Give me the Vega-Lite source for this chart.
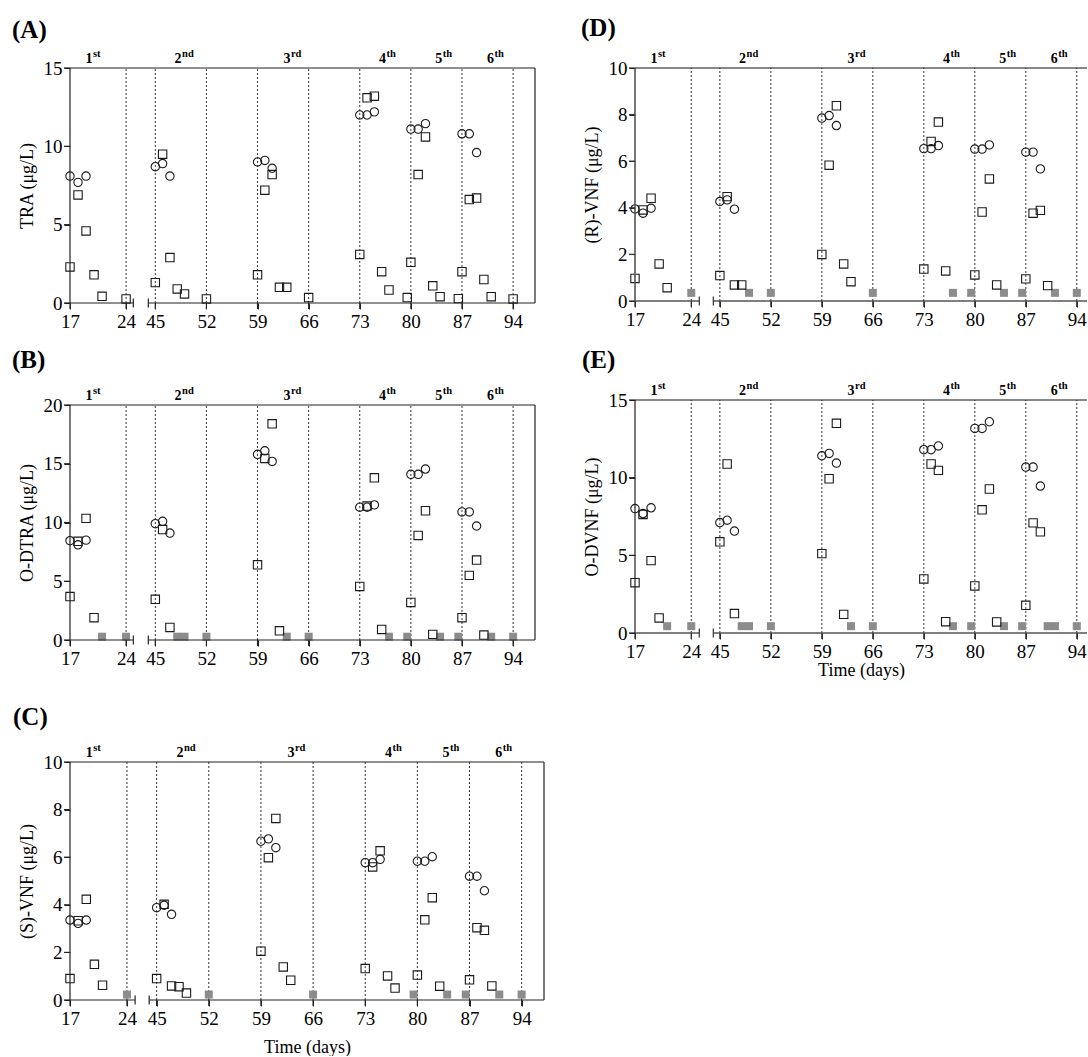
{
  "$schema": "https://vega.github.io/schema/vega-lite/v6.json",
  "padding": {"left": 12, "top": 16, "right": 0, "bottom": 0},
  "background": "white",
  "config": {
    "font": "Liberation Serif",
    "view": {"stroke": null},
    "axis": {"grid": false, "labelFont": "Liberation Serif", "labelFontSize": 19, "labelColor": "#000", "titleFont": "Liberation Serif", "titleFontSize": 18, "titleFontWeight": "normal", "titleColor": "#000", "labelPadding": 3, "labelFlush": false, "labelOverlap": false, "ticks": true, "tickSize": 6, "tickColor": "#222", "domainColor": "#222"},
    "axisX": {"domain": false, "titlePadding": 8},
    "axisY": {"domain": false, "titlePadding": 7, "labelPadding": 2},
    "text": {"font": "Liberation Serif", "color": "#000"}
  },
  "datasets": {
    "one": [{}],
    "xticks": [{"day": 17}, {"day": 24}, {"day": 45}, {"day": 52}, {"day": 59}, {"day": 66}, {"day": 73}, {"day": 80}, {"day": 87}, {"day": 94}],
    "y15": [{"value": 0}, {"value": 5}, {"value": 10}, {"value": 15}],
    "y20": [{"value": 0}, {"value": 5}, {"value": 10}, {"value": 15}, {"value": 20}],
    "y10": [{"value": 0}, {"value": 2}, {"value": 4}, {"value": 6}, {"value": 8}, {"value": 10}],
    "doses": [{"day": 24}, {"day": 45}, {"day": 52}, {"day": 59}, {"day": 66}, {"day": 73}, {"day": 80}, {"day": 87}, {"day": 94}],
    "cycles": [{"day": 19.8, "n": "1", "sup": "st"}, {"day": 48.6, "n": "2", "sup": "nd"}, {"day": 63.5, "n": "3", "sup": "rd"}, {"day": 76.6, "n": "4", "sup": "th"}, {"day": 84.3, "n": "5", "sup": "th"}, {"day": 91.4, "n": "6", "sup": "th"}],
    "A": [
      {"day": 17, "value": 8.1, "t": "c"}, {"day": 18, "value": 7.7, "t": "c"}, {"day": 19, "value": 8.1, "t": "c"},
      {"day": 45, "value": 8.7, "t": "c"}, {"day": 46, "value": 8.9, "t": "c"}, {"day": 47, "value": 8.1, "t": "c"},
      {"day": 59, "value": 9.0, "t": "c"}, {"day": 60, "value": 9.1, "t": "c"}, {"day": 61, "value": 8.6, "t": "c"},
      {"day": 73, "value": 12.0, "t": "c"}, {"day": 74, "value": 12.0, "t": "c"}, {"day": 75, "value": 12.2, "t": "c"},
      {"day": 80, "value": 11.1, "t": "c"}, {"day": 81, "value": 11.1, "t": "c"}, {"day": 82, "value": 11.45, "t": "c"},
      {"day": 87, "value": 10.8, "t": "c"}, {"day": 88, "value": 10.8, "t": "c"}, {"day": 89, "value": 9.6, "t": "c"},
      {"day": 17, "value": 2.3, "t": "s"}, {"day": 18, "value": 6.9, "t": "s"}, {"day": 19, "value": 4.6, "t": "s"}, {"day": 20, "value": 1.8, "t": "s"}, {"day": 21, "value": 0.43, "t": "s"}, {"day": 24, "value": 0.26, "t": "s"},
      {"day": 45, "value": 1.3, "t": "s"}, {"day": 46, "value": 9.5, "t": "s"}, {"day": 47, "value": 2.9, "t": "s"}, {"day": 48, "value": 0.9, "t": "s"}, {"day": 49, "value": 0.58, "t": "s"}, {"day": 52, "value": 0.26, "t": "s"},
      {"day": 59, "value": 1.8, "t": "s"}, {"day": 60, "value": 7.2, "t": "s"}, {"day": 61, "value": 8.2, "t": "s"}, {"day": 62, "value": 1.0, "t": "s"}, {"day": 63, "value": 1.0, "t": "s"}, {"day": 66, "value": 0.35, "t": "s"},
      {"day": 73, "value": 3.1, "t": "s"}, {"day": 74, "value": 13.1, "t": "s"}, {"day": 75, "value": 13.2, "t": "s"}, {"day": 76, "value": 2.0, "t": "s"}, {"day": 77, "value": 0.83, "t": "s"}, {"day": 79.5, "value": 0.35, "t": "s"},
      {"day": 80, "value": 2.6, "t": "s"}, {"day": 81, "value": 8.2, "t": "s"}, {"day": 82, "value": 10.6, "t": "s"}, {"day": 83, "value": 1.1, "t": "s"}, {"day": 84, "value": 0.4, "t": "s"}, {"day": 86.5, "value": 0.28, "t": "s"},
      {"day": 87, "value": 2.0, "t": "s"}, {"day": 88, "value": 6.6, "t": "s"}, {"day": 89, "value": 6.7, "t": "s"}, {"day": 90, "value": 1.5, "t": "s"}, {"day": 91, "value": 0.4, "t": "s"}, {"day": 94, "value": 0.26, "t": "s"}
    ],
    "B": [
      {"day": 17, "value": 8.45, "t": "c"}, {"day": 18, "value": 8.1, "t": "c"}, {"day": 19, "value": 8.5, "t": "c"},
      {"day": 45, "value": 9.9, "t": "c"}, {"day": 46, "value": 10.1, "t": "c"}, {"day": 47, "value": 9.1, "t": "c"},
      {"day": 59, "value": 15.8, "t": "c"}, {"day": 60, "value": 16.1, "t": "c"}, {"day": 61, "value": 15.2, "t": "c"},
      {"day": 73, "value": 11.3, "t": "c"}, {"day": 74, "value": 11.3, "t": "c"}, {"day": 75, "value": 11.5, "t": "c"},
      {"day": 80, "value": 14.1, "t": "c"}, {"day": 81, "value": 14.1, "t": "c"}, {"day": 82, "value": 14.55, "t": "c"},
      {"day": 87, "value": 10.9, "t": "c"}, {"day": 88, "value": 10.9, "t": "c"}, {"day": 89, "value": 9.7, "t": "c"},
      {"day": 17, "value": 3.7, "t": "s"}, {"day": 18, "value": 8.4, "t": "s"}, {"day": 19, "value": 10.35, "t": "s"}, {"day": 20, "value": 1.9, "t": "s"},
      {"day": 45, "value": 3.46, "t": "s"}, {"day": 46, "value": 9.4, "t": "s"}, {"day": 47, "value": 1.07, "t": "s"},
      {"day": 59, "value": 6.4, "t": "s"}, {"day": 60, "value": 15.45, "t": "s"}, {"day": 61, "value": 18.4, "t": "s"}, {"day": 62, "value": 0.78, "t": "s"},
      {"day": 73, "value": 4.56, "t": "s"}, {"day": 74, "value": 11.4, "t": "s"}, {"day": 75, "value": 13.8, "t": "s"}, {"day": 76, "value": 0.9, "t": "s"},
      {"day": 80, "value": 3.2, "t": "s"}, {"day": 81, "value": 8.9, "t": "s"}, {"day": 82, "value": 11.0, "t": "s"}, {"day": 83, "value": 0.48, "t": "s"},
      {"day": 87, "value": 1.9, "t": "s"}, {"day": 88, "value": 5.5, "t": "s"}, {"day": 89, "value": 6.8, "t": "s"}, {"day": 90, "value": 0.42, "t": "s"},
      {"day": 21, "value": 0.28, "t": "b"}, {"day": 24, "value": 0.28, "t": "b"}, {"day": 48, "value": 0.28, "t": "b"}, {"day": 49, "value": 0.28, "t": "b"}, {"day": 52, "value": 0.28, "t": "b"},
      {"day": 63, "value": 0.28, "t": "b"}, {"day": 66, "value": 0.28, "t": "b"}, {"day": 77, "value": 0.28, "t": "b"}, {"day": 79.5, "value": 0.28, "t": "b"},
      {"day": 84, "value": 0.28, "t": "b"}, {"day": 86.5, "value": 0.28, "t": "b"}, {"day": 91, "value": 0.28, "t": "b"}, {"day": 94, "value": 0.28, "t": "b"}
    ],
    "C": [
      {"day": 17, "value": 3.36, "t": "c"}, {"day": 18, "value": 3.22, "t": "c"}, {"day": 19, "value": 3.36, "t": "c"},
      {"day": 45, "value": 3.88, "t": "c"}, {"day": 46, "value": 3.98, "t": "c"}, {"day": 47, "value": 3.6, "t": "c"},
      {"day": 59, "value": 6.67, "t": "c"}, {"day": 60, "value": 6.77, "t": "c"}, {"day": 61, "value": 6.4, "t": "c"},
      {"day": 73, "value": 5.77, "t": "c"}, {"day": 74, "value": 5.77, "t": "c"}, {"day": 75, "value": 5.91, "t": "c"},
      {"day": 80, "value": 5.83, "t": "c"}, {"day": 81, "value": 5.83, "t": "c"}, {"day": 82, "value": 6.02, "t": "c"},
      {"day": 87, "value": 5.2, "t": "c"}, {"day": 88, "value": 5.2, "t": "c"}, {"day": 89, "value": 4.59, "t": "c"},
      {"day": 17, "value": 0.9, "t": "s"}, {"day": 18, "value": 3.33, "t": "s"}, {"day": 19, "value": 4.23, "t": "s"}, {"day": 20, "value": 1.5, "t": "s"}, {"day": 21, "value": 0.62, "t": "s"},
      {"day": 45, "value": 0.9, "t": "s"}, {"day": 46, "value": 4.02, "t": "s"}, {"day": 47, "value": 0.59, "t": "s"}, {"day": 48, "value": 0.56, "t": "s"}, {"day": 49, "value": 0.29, "t": "s"},
      {"day": 59, "value": 2.05, "t": "s"}, {"day": 60, "value": 5.98, "t": "s"}, {"day": 61, "value": 7.63, "t": "s"}, {"day": 62, "value": 1.39, "t": "s"}, {"day": 63, "value": 0.83, "t": "s"},
      {"day": 73, "value": 1.32, "t": "s"}, {"day": 74, "value": 5.59, "t": "s"}, {"day": 75, "value": 6.27, "t": "s"}, {"day": 76, "value": 1.01, "t": "s"}, {"day": 77, "value": 0.5, "t": "s"},
      {"day": 80, "value": 1.05, "t": "s"}, {"day": 81, "value": 3.37, "t": "s"}, {"day": 82, "value": 4.3, "t": "s"}, {"day": 83, "value": 0.58, "t": "s"},
      {"day": 87, "value": 0.85, "t": "s"}, {"day": 88, "value": 3.04, "t": "s"}, {"day": 89, "value": 2.93, "t": "s"}, {"day": 90, "value": 0.59, "t": "s"},
      {"day": 24, "value": 0.23, "t": "b"}, {"day": 52, "value": 0.23, "t": "b"}, {"day": 66, "value": 0.23, "t": "b"}, {"day": 79.5, "value": 0.23, "t": "b"},
      {"day": 84, "value": 0.23, "t": "b"}, {"day": 86.5, "value": 0.23, "t": "b"}, {"day": 91, "value": 0.23, "t": "b"}, {"day": 94, "value": 0.23, "t": "b"}
    ],
    "D": [
      {"day": 17, "value": 3.95, "t": "c"}, {"day": 18, "value": 3.77, "t": "c"}, {"day": 19, "value": 3.98, "t": "c"},
      {"day": 45, "value": 4.27, "t": "c"}, {"day": 46, "value": 4.34, "t": "c"}, {"day": 47, "value": 3.94, "t": "c"},
      {"day": 59, "value": 7.85, "t": "c"}, {"day": 60, "value": 7.96, "t": "c"}, {"day": 61, "value": 7.53, "t": "c"},
      {"day": 73, "value": 6.54, "t": "c"}, {"day": 74, "value": 6.54, "t": "c"}, {"day": 75, "value": 6.67, "t": "c"},
      {"day": 80, "value": 6.52, "t": "c"}, {"day": 81, "value": 6.52, "t": "c"}, {"day": 82, "value": 6.7, "t": "c"},
      {"day": 87, "value": 6.39, "t": "c"}, {"day": 88, "value": 6.39, "t": "c"}, {"day": 89, "value": 5.67, "t": "c"},
      {"day": 17, "value": 0.97, "t": "s"}, {"day": 18, "value": 3.91, "t": "s"}, {"day": 19, "value": 4.41, "t": "s"}, {"day": 20, "value": 1.59, "t": "s"}, {"day": 21, "value": 0.57, "t": "s"},
      {"day": 45, "value": 1.09, "t": "s"}, {"day": 46, "value": 4.48, "t": "s"}, {"day": 47, "value": 0.69, "t": "s"}, {"day": 48, "value": 0.69, "t": "s"},
      {"day": 59, "value": 2.0, "t": "s"}, {"day": 60, "value": 5.83, "t": "s"}, {"day": 61, "value": 8.38, "t": "s"}, {"day": 62, "value": 1.59, "t": "s"}, {"day": 63, "value": 0.83, "t": "s"},
      {"day": 73, "value": 1.37, "t": "s"}, {"day": 74, "value": 6.85, "t": "s"}, {"day": 75, "value": 7.68, "t": "s"}, {"day": 76, "value": 1.29, "t": "s"},
      {"day": 80, "value": 1.12, "t": "s"}, {"day": 81, "value": 3.82, "t": "s"}, {"day": 82, "value": 5.24, "t": "s"}, {"day": 83, "value": 0.69, "t": "s"},
      {"day": 87, "value": 0.95, "t": "s"}, {"day": 88, "value": 3.77, "t": "s"}, {"day": 89, "value": 3.89, "t": "s"}, {"day": 90, "value": 0.66, "t": "s"},
      {"day": 24, "value": 0.35, "t": "b"}, {"day": 49, "value": 0.35, "t": "b"}, {"day": 52, "value": 0.35, "t": "b"}, {"day": 66, "value": 0.35, "t": "b"}, {"day": 77, "value": 0.35, "t": "b"},
      {"day": 79.5, "value": 0.35, "t": "b"}, {"day": 84, "value": 0.35, "t": "b"}, {"day": 86.5, "value": 0.35, "t": "b"}, {"day": 91, "value": 0.35, "t": "b"}, {"day": 94, "value": 0.35, "t": "b"}
    ],
    "E": [
      {"day": 17, "value": 8.01, "t": "c"}, {"day": 18, "value": 7.69, "t": "c"}, {"day": 19, "value": 8.06, "t": "c"},
      {"day": 45, "value": 7.11, "t": "c"}, {"day": 46, "value": 7.26, "t": "c"}, {"day": 47, "value": 6.56, "t": "c"},
      {"day": 59, "value": 11.41, "t": "c"}, {"day": 60, "value": 11.56, "t": "c"}, {"day": 61, "value": 10.94, "t": "c"},
      {"day": 73, "value": 11.8, "t": "c"}, {"day": 74, "value": 11.8, "t": "c"}, {"day": 75, "value": 12.04, "t": "c"},
      {"day": 80, "value": 13.17, "t": "c"}, {"day": 81, "value": 13.17, "t": "c"}, {"day": 82, "value": 13.6, "t": "c"},
      {"day": 87, "value": 10.68, "t": "c"}, {"day": 88, "value": 10.68, "t": "c"}, {"day": 89, "value": 9.46, "t": "c"},
      {"day": 17, "value": 3.24, "t": "s"}, {"day": 18, "value": 7.63, "t": "s"}, {"day": 19, "value": 4.66, "t": "s"}, {"day": 20, "value": 0.97, "t": "s"},
      {"day": 45, "value": 5.87, "t": "s"}, {"day": 46, "value": 10.88, "t": "s"}, {"day": 47, "value": 1.25, "t": "s"},
      {"day": 59, "value": 5.11, "t": "s"}, {"day": 60, "value": 9.93, "t": "s"}, {"day": 61, "value": 13.5, "t": "s"}, {"day": 62, "value": 1.2, "t": "s"},
      {"day": 73, "value": 3.48, "t": "s"}, {"day": 74, "value": 10.88, "t": "s"}, {"day": 75, "value": 10.47, "t": "s"}, {"day": 76, "value": 0.73, "t": "s"},
      {"day": 80, "value": 3.03, "t": "s"}, {"day": 81, "value": 7.93, "t": "s"}, {"day": 82, "value": 9.27, "t": "s"}, {"day": 83, "value": 0.71, "t": "s"},
      {"day": 87, "value": 1.78, "t": "s"}, {"day": 88, "value": 7.09, "t": "s"}, {"day": 89, "value": 6.51, "t": "s"},
      {"day": 21, "value": 0.44, "t": "b"}, {"day": 24, "value": 0.44, "t": "b"}, {"day": 48, "value": 0.44, "t": "b"}, {"day": 49, "value": 0.44, "t": "b"}, {"day": 52, "value": 0.44, "t": "b"},
      {"day": 63, "value": 0.44, "t": "b"}, {"day": 66, "value": 0.44, "t": "b"}, {"day": 77, "value": 0.44, "t": "b"}, {"day": 79.5, "value": 0.44, "t": "b"},
      {"day": 84, "value": 0.44, "t": "b"}, {"day": 86.5, "value": 0.44, "t": "b"}, {"day": 90, "value": 0.44, "t": "b"}, {"day": 91, "value": 0.44, "t": "b"}, {"day": 94, "value": 0.44, "t": "b"}
    ]
  },
  "spacing": 36,
  "hconcat": [
    {
      "spacing": 37,
      "vconcat": [
        {
          "spacing": 17,
          "vconcat": [
            {
              "width": 465, "height": 235,
              "layer": [
                {"data": {"name": "doses"}, "mark": {"type": "rule", "strokeDash": [2, 2], "color": "#333", "strokeWidth": 1},
                 "encoding": {"x": {"field": "day", "type": "quantitative", "scale": {"domain": [17, 24.9, 44.04, 97], "range": [0, 63.3, 78.3, 465], "nice": false, "zero": false}, "axis": {"values": [17, 24, 45, 52, 59, 66, 73, 80, 87, 94], "title": null}},
                              "y": {"datum": 0, "type": "quantitative", "scale": {"domain": [0, 15], "nice": false, "zero": false}, "axis": {"values": [0, 5, 10, 15], "title": "TRA (μg/L)"}}, "y2": {"datum": 15}}},
                {"data": {"name": "A"}, "transform": [{"filter": "datum.t == 'c'"}], "mark": {"type": "point", "shape": "circle", "size": 70, "filled": false, "color": "#1a1a1a", "strokeWidth": 1.1, "opacity": 1}, "encoding": {"x": {"field": "day", "type": "quantitative"}, "y": {"field": "value", "type": "quantitative"}}},
                {"data": {"name": "A"}, "transform": [{"filter": "datum.t == 's'"}], "mark": {"type": "point", "shape": "square", "size": 70, "filled": false, "color": "#1a1a1a", "strokeWidth": 1.1, "opacity": 1}, "encoding": {"x": {"field": "day", "type": "quantitative"}, "y": {"field": "value", "type": "quantitative"}}},
                {"data": {"name": "cycles"}, "mark": {"type": "text", "fontSize": 14, "fontWeight": "bold", "align": "right", "baseline": "alphabetic", "dy": -5}, "encoding": {"x": {"field": "day", "type": "quantitative"}, "y": {"datum": 15}, "text": {"field": "n"}}},
                {"data": {"name": "cycles"}, "mark": {"type": "text", "fontSize": 10.5, "fontWeight": "bold", "align": "left", "baseline": "alphabetic", "dy": -11, "dx": 0.5}, "encoding": {"x": {"field": "day", "type": "quantitative"}, "y": {"datum": 15}, "text": {"field": "sup"}}},
                {"data": {"name": "one"}, "mark": {"type": "text", "text": "(A)", "fontSize": 25, "fontWeight": "bold", "align": "left", "baseline": "alphabetic", "dx": -58, "dy": -30}, "encoding": {"x": {"datum": 17}, "y": {"datum": 15}}},
                {"data": {"name": "one"}, "mark": {"type": "rule", "color": "#222", "strokeWidth": 1.2}, "encoding": {"x": {"datum": 17}, "y": {"datum": 0}, "y2": {"datum": 15}}},
                {"data": {"name": "one"}, "mark": {"type": "rule", "color": "#222", "strokeWidth": 1.2}, "encoding": {"x": {"datum": 17}, "x2": {"datum": 97}, "y": {"datum": 15}}},
                {"data": {"name": "one"}, "mark": {"type": "rule", "color": "#222", "strokeWidth": 1.2}, "encoding": {"x": {"datum": 97}, "y": {"datum": 0}, "y2": {"datum": 15}}},
                {"data": {"name": "one"}, "mark": {"type": "rule", "color": "#222", "strokeWidth": 1.2}, "encoding": {"x": {"datum": 17}, "x2": {"datum": 24.9}, "y": {"datum": 0}}},
                {"data": {"name": "one"}, "mark": {"type": "rule", "color": "#222", "strokeWidth": 1.2}, "encoding": {"x": {"datum": 44.04}, "x2": {"datum": 97}, "y": {"datum": 0}}},
                {"data": {"name": "xticks"}, "mark": {"type": "point", "shape": "M0,0V1", "size": 144, "filled": false, "color": "#222", "strokeWidth": 1.2, "opacity": 1}, "encoding": {"x": {"field": "day", "type": "quantitative"}, "y": {"datum": 0}}},
                {"data": {"name": "y15"}, "mark": {"type": "point", "shape": "M0,0H-1", "size": 144, "filled": false, "color": "#222", "strokeWidth": 1.2, "opacity": 1}, "encoding": {"x": {"datum": 17}, "y": {"field": "value", "type": "quantitative"}}},
                {"data": {"name": "one"}, "mark": {"type": "point", "shape": "M0,-1V1", "size": 81, "filled": false, "color": "#222", "strokeWidth": 1.2, "opacity": 1}, "encoding": {"x": {"datum": 24.9}, "y": {"datum": 0}}},
                {"data": {"name": "one"}, "mark": {"type": "point", "shape": "M0,-1V1", "size": 81, "filled": false, "color": "#222", "strokeWidth": 1.2, "opacity": 1}, "encoding": {"x": {"datum": 44.04}, "y": {"datum": 0}}}
              ]
            },
            {
              "width": 465, "height": 235,
              "layer": [
                {"data": {"name": "doses"}, "mark": {"type": "rule", "strokeDash": [2, 2], "color": "#333", "strokeWidth": 1},
                 "encoding": {"x": {"field": "day", "type": "quantitative", "scale": {"domain": [17, 24.9, 44.04, 97], "range": [0, 63.3, 78.3, 465], "nice": false, "zero": false}, "axis": {"values": [17, 24, 45, 52, 59, 66, 73, 80, 87, 94], "title": null}},
                              "y": {"datum": 0, "type": "quantitative", "scale": {"domain": [0, 20], "nice": false, "zero": false}, "axis": {"values": [0, 5, 10, 15, 20], "title": "O-DTRA (μg/L)"}}, "y2": {"datum": 20}}},
                {"data": {"name": "B"}, "transform": [{"filter": "datum.t == 'b'"}], "mark": {"type": "point", "shape": "square", "size": 64, "filled": true, "color": "#8c8c8c", "opacity": 1}, "encoding": {"x": {"field": "day", "type": "quantitative"}, "y": {"field": "value", "type": "quantitative"}}},
                {"data": {"name": "B"}, "transform": [{"filter": "datum.t == 'c'"}], "mark": {"type": "point", "shape": "circle", "size": 70, "filled": false, "color": "#1a1a1a", "strokeWidth": 1.1, "opacity": 1}, "encoding": {"x": {"field": "day", "type": "quantitative"}, "y": {"field": "value", "type": "quantitative"}}},
                {"data": {"name": "B"}, "transform": [{"filter": "datum.t == 's'"}], "mark": {"type": "point", "shape": "square", "size": 70, "filled": false, "color": "#1a1a1a", "strokeWidth": 1.1, "opacity": 1}, "encoding": {"x": {"field": "day", "type": "quantitative"}, "y": {"field": "value", "type": "quantitative"}}},
                {"data": {"name": "cycles"}, "mark": {"type": "text", "fontSize": 14, "fontWeight": "bold", "align": "right", "baseline": "alphabetic", "dy": -5}, "encoding": {"x": {"field": "day", "type": "quantitative"}, "y": {"datum": 20}, "text": {"field": "n"}}},
                {"data": {"name": "cycles"}, "mark": {"type": "text", "fontSize": 10.5, "fontWeight": "bold", "align": "left", "baseline": "alphabetic", "dy": -11, "dx": 0.5}, "encoding": {"x": {"field": "day", "type": "quantitative"}, "y": {"datum": 20}, "text": {"field": "sup"}}},
                {"data": {"name": "one"}, "mark": {"type": "text", "text": "(B)", "fontSize": 25, "fontWeight": "bold", "align": "left", "baseline": "alphabetic", "dx": -58, "dy": -36.6}, "encoding": {"x": {"datum": 17}, "y": {"datum": 20}}},
                {"data": {"name": "one"}, "mark": {"type": "rule", "color": "#222", "strokeWidth": 1.2}, "encoding": {"x": {"datum": 17}, "y": {"datum": 0}, "y2": {"datum": 20}}},
                {"data": {"name": "one"}, "mark": {"type": "rule", "color": "#222", "strokeWidth": 1.2}, "encoding": {"x": {"datum": 17}, "x2": {"datum": 97}, "y": {"datum": 20}}},
                {"data": {"name": "one"}, "mark": {"type": "rule", "color": "#222", "strokeWidth": 1.2}, "encoding": {"x": {"datum": 97}, "y": {"datum": 0}, "y2": {"datum": 20}}},
                {"data": {"name": "one"}, "mark": {"type": "rule", "color": "#222", "strokeWidth": 1.2}, "encoding": {"x": {"datum": 17}, "x2": {"datum": 24.9}, "y": {"datum": 0}}},
                {"data": {"name": "one"}, "mark": {"type": "rule", "color": "#222", "strokeWidth": 1.2}, "encoding": {"x": {"datum": 44.04}, "x2": {"datum": 97}, "y": {"datum": 0}}},
                {"data": {"name": "xticks"}, "mark": {"type": "point", "shape": "M0,0V1", "size": 144, "filled": false, "color": "#222", "strokeWidth": 1.2, "opacity": 1}, "encoding": {"x": {"field": "day", "type": "quantitative"}, "y": {"datum": 0}}},
                {"data": {"name": "y20"}, "mark": {"type": "point", "shape": "M0,0H-1", "size": 144, "filled": false, "color": "#222", "strokeWidth": 1.2, "opacity": 1}, "encoding": {"x": {"datum": 17}, "y": {"field": "value", "type": "quantitative"}}},
                {"data": {"name": "one"}, "mark": {"type": "point", "shape": "M0,-1V1", "size": 81, "filled": false, "color": "#222", "strokeWidth": 1.2, "opacity": 1}, "encoding": {"x": {"datum": 24.9}, "y": {"datum": 0}}},
                {"data": {"name": "one"}, "mark": {"type": "point", "shape": "M0,-1V1", "size": 81, "filled": false, "color": "#222", "strokeWidth": 1.2, "opacity": 1}, "encoding": {"x": {"datum": 44.04}, "y": {"datum": 0}}}
              ]
            }
          ]
        },
        {
          "width": 474, "height": 238,
          "layer": [
            {"data": {"name": "doses"}, "mark": {"type": "rule", "strokeDash": [2, 2], "color": "#333", "strokeWidth": 1},
             "encoding": {"x": {"field": "day", "type": "quantitative", "scale": {"domain": [17, 25, 44, 97], "range": [0, 65.1, 79.2, 474], "nice": false, "zero": false}, "axis": {"values": [17, 24, 45, 52, 59, 66, 73, 80, 87, 94], "title": "Time (days)", "titlePadding": 10}},
                          "y": {"datum": 0, "type": "quantitative", "scale": {"domain": [0, 10], "nice": false, "zero": false}, "axis": {"values": [0, 2, 4, 6, 8, 10], "title": "(S)-VNF (μg/L)"}}, "y2": {"datum": 10}}},
            {"data": {"name": "C"}, "transform": [{"filter": "datum.t == 'b'"}], "mark": {"type": "point", "shape": "square", "size": 64, "filled": true, "color": "#8c8c8c", "opacity": 1}, "encoding": {"x": {"field": "day", "type": "quantitative"}, "y": {"field": "value", "type": "quantitative"}}},
            {"data": {"name": "C"}, "transform": [{"filter": "datum.t == 'c'"}], "mark": {"type": "point", "shape": "circle", "size": 70, "filled": false, "color": "#1a1a1a", "strokeWidth": 1.1, "opacity": 1}, "encoding": {"x": {"field": "day", "type": "quantitative"}, "y": {"field": "value", "type": "quantitative"}}},
            {"data": {"name": "C"}, "transform": [{"filter": "datum.t == 's'"}], "mark": {"type": "point", "shape": "square", "size": 70, "filled": false, "color": "#1a1a1a", "strokeWidth": 1.1, "opacity": 1}, "encoding": {"x": {"field": "day", "type": "quantitative"}, "y": {"field": "value", "type": "quantitative"}}},
            {"data": {"name": "cycles"}, "mark": {"type": "text", "fontSize": 14, "fontWeight": "bold", "align": "right", "baseline": "alphabetic", "dy": -5}, "encoding": {"x": {"field": "day", "type": "quantitative"}, "y": {"datum": 10}, "text": {"field": "n"}}},
            {"data": {"name": "cycles"}, "mark": {"type": "text", "fontSize": 10.5, "fontWeight": "bold", "align": "left", "baseline": "alphabetic", "dy": -11, "dx": 0.5}, "encoding": {"x": {"field": "day", "type": "quantitative"}, "y": {"datum": 10}, "text": {"field": "sup"}}},
            {"data": {"name": "one"}, "mark": {"type": "text", "text": "(C)", "fontSize": 25, "fontWeight": "bold", "align": "left", "baseline": "alphabetic", "dx": -57, "dy": -36.7}, "encoding": {"x": {"datum": 17}, "y": {"datum": 10}}},
            {"data": {"name": "one"}, "mark": {"type": "rule", "color": "#222", "strokeWidth": 1.2}, "encoding": {"x": {"datum": 17}, "y": {"datum": 0}, "y2": {"datum": 10}}},
            {"data": {"name": "one"}, "mark": {"type": "rule", "color": "#222", "strokeWidth": 1.2}, "encoding": {"x": {"datum": 17}, "x2": {"datum": 97}, "y": {"datum": 10}}},
            {"data": {"name": "one"}, "mark": {"type": "rule", "color": "#222", "strokeWidth": 1.2}, "encoding": {"x": {"datum": 97}, "y": {"datum": 0}, "y2": {"datum": 10}}},
            {"data": {"name": "one"}, "mark": {"type": "rule", "color": "#222", "strokeWidth": 1.2}, "encoding": {"x": {"datum": 17}, "x2": {"datum": 25}, "y": {"datum": 0}}},
            {"data": {"name": "one"}, "mark": {"type": "rule", "color": "#222", "strokeWidth": 1.2}, "encoding": {"x": {"datum": 44}, "x2": {"datum": 97}, "y": {"datum": 0}}},
            {"data": {"name": "xticks"}, "mark": {"type": "point", "shape": "M0,0V1", "size": 144, "filled": false, "color": "#222", "strokeWidth": 1.2, "opacity": 1}, "encoding": {"x": {"field": "day", "type": "quantitative"}, "y": {"datum": 0}}},
            {"data": {"name": "y10"}, "mark": {"type": "point", "shape": "M0,0H-1", "size": 144, "filled": false, "color": "#222", "strokeWidth": 1.2, "opacity": 1}, "encoding": {"x": {"datum": 17}, "y": {"field": "value", "type": "quantitative"}}},
            {"data": {"name": "one"}, "mark": {"type": "point", "shape": "M0,-1V1", "size": 81, "filled": false, "color": "#222", "strokeWidth": 1.2, "opacity": 1}, "encoding": {"x": {"datum": 25}, "y": {"datum": 0}}},
            {"data": {"name": "one"}, "mark": {"type": "point", "shape": "M0,-1V1", "size": 81, "filled": false, "color": "#222", "strokeWidth": 1.2, "opacity": 1}, "encoding": {"x": {"datum": 44}, "y": {"datum": 0}}}
          ]
        }
      ]
    },
    {
      "spacing": 19,
      "vconcat": [
        {
          "width": 452, "height": 233,
          "layer": [
            {"data": {"name": "doses"}, "mark": {"type": "rule", "strokeDash": [2, 2], "color": "#333", "strokeWidth": 1},
             "encoding": {"x": {"field": "day", "type": "quantitative", "scale": {"domain": [17, 25, 44.1, 95.4], "range": [0, 64.3, 78.3, 452], "nice": false, "zero": false}, "axis": {"values": [17, 24, 45, 52, 59, 66, 73, 80, 87, 94], "title": null}},
                          "y": {"datum": 0, "type": "quantitative", "scale": {"domain": [0, 10], "nice": false, "zero": false}, "axis": {"values": [0, 2, 4, 6, 8, 10], "title": "(R)-VNF (μg/L)"}}, "y2": {"datum": 10}}},
            {"data": {"name": "D"}, "transform": [{"filter": "datum.t == 'b'"}], "mark": {"type": "point", "shape": "square", "size": 64, "filled": true, "color": "#8c8c8c", "opacity": 1}, "encoding": {"x": {"field": "day", "type": "quantitative"}, "y": {"field": "value", "type": "quantitative"}}},
            {"data": {"name": "D"}, "transform": [{"filter": "datum.t == 'c'"}], "mark": {"type": "point", "shape": "circle", "size": 70, "filled": false, "color": "#1a1a1a", "strokeWidth": 1.1, "opacity": 1}, "encoding": {"x": {"field": "day", "type": "quantitative"}, "y": {"field": "value", "type": "quantitative"}}},
            {"data": {"name": "D"}, "transform": [{"filter": "datum.t == 's'"}], "mark": {"type": "point", "shape": "square", "size": 70, "filled": false, "color": "#1a1a1a", "strokeWidth": 1.1, "opacity": 1}, "encoding": {"x": {"field": "day", "type": "quantitative"}, "y": {"field": "value", "type": "quantitative"}}},
            {"data": {"name": "cycles"}, "mark": {"type": "text", "fontSize": 14, "fontWeight": "bold", "align": "right", "baseline": "alphabetic", "dy": -5}, "encoding": {"x": {"field": "day", "type": "quantitative"}, "y": {"datum": 10}, "text": {"field": "n"}}},
            {"data": {"name": "cycles"}, "mark": {"type": "text", "fontSize": 10.5, "fontWeight": "bold", "align": "left", "baseline": "alphabetic", "dy": -11, "dx": 0.5}, "encoding": {"x": {"field": "day", "type": "quantitative"}, "y": {"datum": 10}, "text": {"field": "sup"}}},
            {"data": {"name": "one"}, "mark": {"type": "text", "text": "(D)", "fontSize": 25, "fontWeight": "bold", "align": "left", "baseline": "alphabetic", "dx": -54, "dy": -31.7}, "encoding": {"x": {"datum": 17}, "y": {"datum": 10}}},
            {"data": {"name": "one"}, "mark": {"type": "rule", "color": "#555", "strokeWidth": 1.6}, "encoding": {"x": {"datum": 17}, "y": {"datum": 0}, "y2": {"datum": 10}}},
            {"data": {"name": "one"}, "mark": {"type": "rule", "color": "#111", "strokeWidth": 1.2}, "encoding": {"x": {"datum": 17}, "x2": {"datum": 95.4}, "y": {"datum": 10}}},
            {"data": {"name": "one"}, "mark": {"type": "rule", "color": "#555", "strokeWidth": 1.6}, "encoding": {"x": {"datum": 17}, "x2": {"datum": 25}, "y": {"datum": 0}}},
            {"data": {"name": "one"}, "mark": {"type": "rule", "color": "#555", "strokeWidth": 1.6}, "encoding": {"x": {"datum": 44.1}, "x2": {"datum": 95.4}, "y": {"datum": 0}}},
            {"data": {"name": "xticks"}, "mark": {"type": "point", "shape": "M0,0V1", "size": 144, "filled": false, "color": "#333", "strokeWidth": 1.3, "opacity": 1}, "encoding": {"x": {"field": "day", "type": "quantitative"}, "y": {"datum": 0}}},
            {"data": {"name": "y10"}, "mark": {"type": "point", "shape": "M0,0H-1", "size": 144, "filled": false, "color": "#333", "strokeWidth": 1.3, "opacity": 1}, "encoding": {"x": {"datum": 17}, "y": {"field": "value", "type": "quantitative"}}},
            {"data": {"name": "one"}, "mark": {"type": "point", "shape": "M0,-1V1", "size": 81, "filled": false, "color": "#333", "strokeWidth": 1.2, "opacity": 1}, "encoding": {"x": {"datum": 25}, "y": {"datum": 0}}},
            {"data": {"name": "one"}, "mark": {"type": "point", "shape": "M0,-1V1", "size": 81, "filled": false, "color": "#333", "strokeWidth": 1.2, "opacity": 1}, "encoding": {"x": {"datum": 44.1}, "y": {"datum": 0}}}
          ]
        },
        {
          "width": 452, "height": 233,
          "layer": [
            {"data": {"name": "doses"}, "mark": {"type": "rule", "strokeDash": [2, 2], "color": "#333", "strokeWidth": 1},
             "encoding": {"x": {"field": "day", "type": "quantitative", "scale": {"domain": [17, 25, 44.1, 95.4], "range": [0, 64.3, 78.3, 452], "nice": false, "zero": false}, "axis": {"values": [17, 24, 45, 52, 59, 66, 73, 80, 87, 94], "title": "Time (days)", "titlePadding": 0}},
                          "y": {"datum": 0, "type": "quantitative", "scale": {"domain": [0, 15], "nice": false, "zero": false}, "axis": {"values": [0, 5, 10, 15], "title": "O-DVNF (μg/L)"}}, "y2": {"datum": 15}}},
            {"data": {"name": "E"}, "transform": [{"filter": "datum.t == 'b'"}], "mark": {"type": "point", "shape": "square", "size": 64, "filled": true, "color": "#8c8c8c", "opacity": 1}, "encoding": {"x": {"field": "day", "type": "quantitative"}, "y": {"field": "value", "type": "quantitative"}}},
            {"data": {"name": "E"}, "transform": [{"filter": "datum.t == 'c'"}], "mark": {"type": "point", "shape": "circle", "size": 70, "filled": false, "color": "#1a1a1a", "strokeWidth": 1.1, "opacity": 1}, "encoding": {"x": {"field": "day", "type": "quantitative"}, "y": {"field": "value", "type": "quantitative"}}},
            {"data": {"name": "E"}, "transform": [{"filter": "datum.t == 's'"}], "mark": {"type": "point", "shape": "square", "size": 70, "filled": false, "color": "#1a1a1a", "strokeWidth": 1.1, "opacity": 1}, "encoding": {"x": {"field": "day", "type": "quantitative"}, "y": {"field": "value", "type": "quantitative"}}},
            {"data": {"name": "cycles"}, "mark": {"type": "text", "fontSize": 14, "fontWeight": "bold", "align": "right", "baseline": "alphabetic", "dy": -5}, "encoding": {"x": {"field": "day", "type": "quantitative"}, "y": {"datum": 15}, "text": {"field": "n"}}},
            {"data": {"name": "cycles"}, "mark": {"type": "text", "fontSize": 10.5, "fontWeight": "bold", "align": "left", "baseline": "alphabetic", "dy": -11, "dx": 0.5}, "encoding": {"x": {"field": "day", "type": "quantitative"}, "y": {"datum": 15}, "text": {"field": "sup"}}},
            {"data": {"name": "one"}, "mark": {"type": "text", "text": "(E)", "fontSize": 25, "fontWeight": "bold", "align": "left", "baseline": "alphabetic", "dx": -53, "dy": -31.6}, "encoding": {"x": {"datum": 17}, "y": {"datum": 15}}},
            {"data": {"name": "one"}, "mark": {"type": "rule", "color": "#222", "strokeWidth": 1.2}, "encoding": {"x": {"datum": 17}, "y": {"datum": 0}, "y2": {"datum": 15}}},
            {"data": {"name": "one"}, "mark": {"type": "rule", "color": "#111", "strokeWidth": 1.2}, "encoding": {"x": {"datum": 17}, "x2": {"datum": 95.4}, "y": {"datum": 15}}},
            {"data": {"name": "one"}, "mark": {"type": "rule", "color": "#555", "strokeWidth": 1.6}, "encoding": {"x": {"datum": 17}, "x2": {"datum": 25}, "y": {"datum": 0}}},
            {"data": {"name": "one"}, "mark": {"type": "rule", "color": "#555", "strokeWidth": 1.6}, "encoding": {"x": {"datum": 44.1}, "x2": {"datum": 95.4}, "y": {"datum": 0}}},
            {"data": {"name": "xticks"}, "mark": {"type": "point", "shape": "M0,0V1", "size": 144, "filled": false, "color": "#333", "strokeWidth": 1.3, "opacity": 1}, "encoding": {"x": {"field": "day", "type": "quantitative"}, "y": {"datum": 0}}},
            {"data": {"name": "y15"}, "mark": {"type": "point", "shape": "M0,0H-1", "size": 144, "filled": false, "color": "#222", "strokeWidth": 1.2, "opacity": 1}, "encoding": {"x": {"datum": 17}, "y": {"field": "value", "type": "quantitative"}}},
            {"data": {"name": "one"}, "mark": {"type": "point", "shape": "M0,-1V1", "size": 81, "filled": false, "color": "#333", "strokeWidth": 1.2, "opacity": 1}, "encoding": {"x": {"datum": 25}, "y": {"datum": 0}}},
            {"data": {"name": "one"}, "mark": {"type": "point", "shape": "M0,-1V1", "size": 81, "filled": false, "color": "#333", "strokeWidth": 1.2, "opacity": 1}, "encoding": {"x": {"datum": 44.1}, "y": {"datum": 0}}}
          ]
        }
      ]
    }
  ]
}
